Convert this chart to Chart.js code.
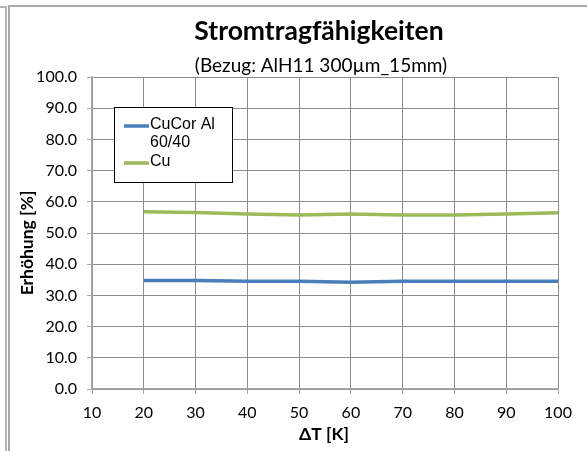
<!DOCTYPE html>
<html>
<head>
<meta charset="utf-8">
<script src="https://cdn.jsdelivr.net/npm/chart.js@4/dist/chart.umd.min.js"></script>
<style>
  html, body { margin: 0; padding: 0; background: #fff; }
  #wrap { position: relative; width: 587px; height: 451px; }
</style>
</head>
<body>
<div id="wrap"><canvas id="c" width="587" height="451"></canvas></div>
<script>
// ΔT steps (K)
const deltaT = [20, 30, 40, 50, 60, 70, 80, 90, 100];
// Increase of current carrying capacity (%)
const cucorAl = [34.8, 34.8, 34.5, 34.5, 34.2, 34.5, 34.5, 34.5, 34.5];
const cu = [56.8, 56.6, 56.1, 55.8, 56.1, 55.8, 55.8, 56.1, 56.5];
const seriesNames = ['CuCor Al 60/40', 'Cu'];
const seriesColors = ['#4a7ebb', '#9bbb59'];

const titleText = 'Stromtragfähigkeiten';
const subtitleText = '(Bezug: AlH11 300µm_15mm)';
const xTitle = 'ΔT [K]';
const yTitle = 'Erhöhung [%]';

const toPoints = (xs, ys) => xs.map((x, i) => ({ x: x, y: ys[i] }));

// frame lines, titles and the boxed legend
const decor = {
  id: 'decor',
  beforeDraw(chart) {
    const ctx = chart.ctx;
    ctx.save();
    ctx.fillStyle = '#fff';
    ctx.fillRect(0, 0, chart.width, chart.height);
    ctx.lineWidth = 2;
    ctx.strokeStyle = '#b4b4b4';
    ctx.beginPath();
    ctx.moveTo(0, 7); ctx.lineTo(6, 7); ctx.lineTo(6, chart.height);
    ctx.stroke();
    ctx.strokeStyle = '#a8a8a8';
    ctx.beginPath();
    ctx.moveTo(9, chart.height); ctx.lineTo(9, 6); ctx.lineTo(chart.width, 6);
    ctx.stroke();
    ctx.restore();
  },
  afterDraw(chart) {
    const ctx = chart.ctx;
    ctx.save();
    ctx.fillStyle = '#000';
    ctx.textAlign = 'center';
    ctx.textBaseline = 'alphabetic';
    ctx.font = 'bold 26.5px Lato';
    ctx.fillText(titleText, 319, 39.5);
    ctx.font = '19px Lato';
    ctx.fillText(subtitleText, 321, 71.5);
    ctx.textBaseline = 'middle';
    ctx.font = 'bold 17.5px Lato';
    ctx.fillText(xTitle, 324, 434);
    ctx.save();
    ctx.translate(27, 243);
    ctx.rotate(-Math.PI / 2);
    ctx.fillText(yTitle, 0, 0);
    ctx.restore();

    // legend box
    const bx = 114.5, by = 107.5, bw = 118, bh = 75;
    ctx.fillStyle = '#fff';
    ctx.fillRect(bx, by, bw, bh);
    ctx.strokeStyle = '#000';
    ctx.lineWidth = 1;
    ctx.strokeRect(bx, by, bw, bh);
    ctx.font = '16px "Liberation Sans"';
    ctx.textAlign = 'left';
    const lineH = 18.5;
    let y = 124.5;
    chart.data.datasets.forEach(ds => {
      // wrap legend labels into the box width
      const words = ds.label.split(' ');
      const lines = [];
      let cur = '';
      words.forEach(w => {
        const t = cur ? cur + ' ' + w : w;
        if (ctx.measureText(t).width > 72 && cur) { lines.push(cur); cur = w; } else { cur = t; }
      });
      lines.push(cur);
      ctx.strokeStyle = ds.borderColor;
      ctx.lineWidth = 3.5;
      ctx.beginPath();
      ctx.moveTo(124, y + 1.5);
      ctx.lineTo(149, y + 1.5);
      ctx.stroke();
      ctx.fillStyle = '#000';
      lines.forEach((l, i) => ctx.fillText(l, 150, y + i * lineH));
      y += lines.length * lineH;
    });
    ctx.restore();
  }
};

new Chart(document.getElementById('c'), {
  type: 'line',
  data: {
    datasets: [
      { label: seriesNames[0], data: toPoints(deltaT, cucorAl), borderColor: seriesColors[0], backgroundColor: seriesColors[0], borderWidth: 3.5, pointRadius: 0, tension: 0 },
      { label: seriesNames[1], data: toPoints(deltaT, cu), borderColor: seriesColors[1], backgroundColor: seriesColors[1], borderWidth: 3.5, pointRadius: 0, tension: 0 }
    ]
  },
  options: {
    responsive: false,
    animation: false,
    devicePixelRatio: 1,
    layout: { padding: { top: 77, right: 29, bottom: 0, left: 0 } },
    plugins: { legend: { display: false }, title: { display: false }, tooltip: { enabled: false } },
    scales: {
      x: {
        type: 'linear',
        min: 10, max: 100,
        afterFit: s => { s.height = 62; },
        ticks: { stepSize: 10, color: '#000', font: { family: 'Lato', size: 16 }, padding: 9, maxRotation: 0 },
        grid: { color: '#8c8c8c', lineWidth: 1, tickLength: 5, tickColor: '#a8a8a8' },
        border: { color: '#a8a8a8', width: 1.5 }
      },
      y: {
        min: 0, max: 100,
        afterFit: s => { s.width = 92; },
        ticks: { stepSize: 10, color: '#000', font: { family: 'Lato', size: 16 }, padding: 10, callback: v => Number(v).toFixed(1) },
        grid: { color: '#8c8c8c', lineWidth: 1, tickLength: 5, tickColor: '#a8a8a8' },
        border: { color: '#a8a8a8', width: 1.5 }
      }
    }
  },
  plugins: [decor]
});
</script>
</body>
</html>
